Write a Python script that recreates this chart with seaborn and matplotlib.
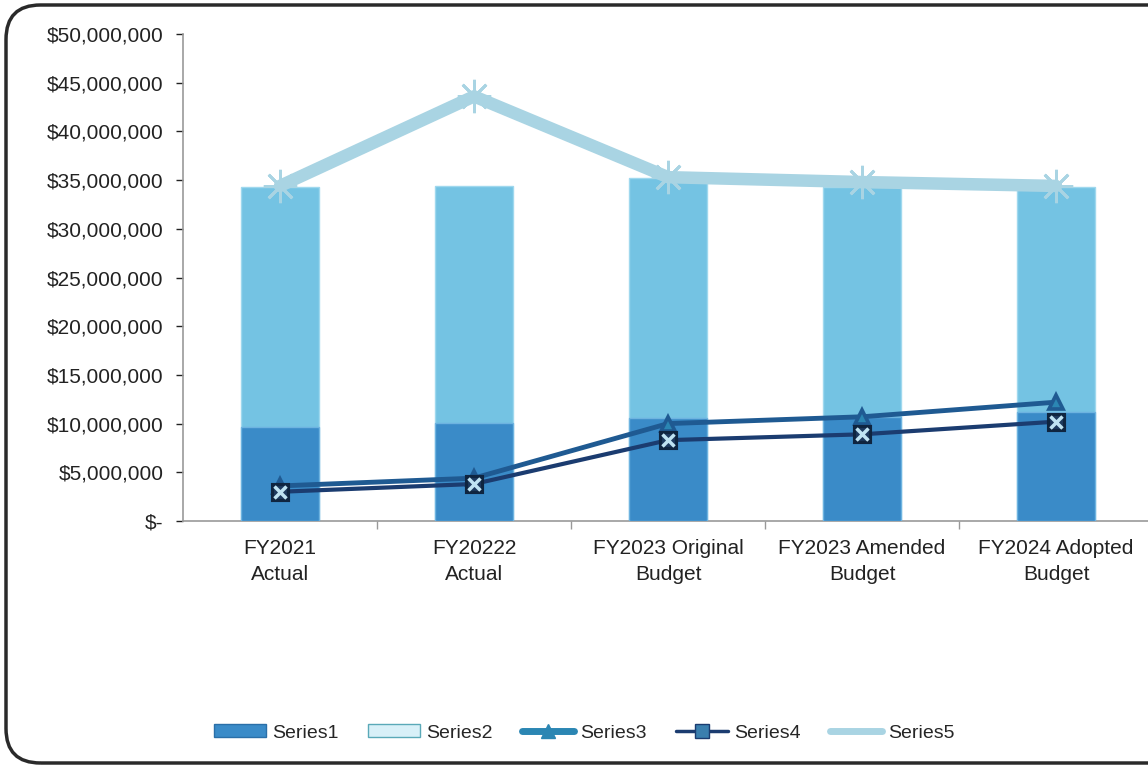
import numpy as np
import matplotlib
matplotlib.use("Agg")
import matplotlib.pyplot as plt
import seaborn as sns
from matplotlib.patches import FancyBboxPatch, Patch
from matplotlib.lines import Line2D
from matplotlib.ticker import FuncFormatter, FixedLocator

categories = ["FY2021\nActual", "FY20222\nActual", "FY2023 Original\nBudget",
              "FY2023 Amended\nBudget", "FY2024 Adopted\nBudget"]
series1 = [9.65e6, 10.05e6, 10.6e6, 10.7e6, 11.2e6]
series2 = [24.65e6, 24.35e6, 24.6e6, 23.6e6, 23.1e6]
series3 = [3.6e6, 4.4e6, 10.0e6, 10.7e6, 12.2e6]
series4 = [3.0e6, 3.8e6, 8.3e6, 8.9e6, 10.2e6]
series5 = [34.4e6, 43.6e6, 35.3e6, 34.8e6, 34.4e6]
yticks = [0, 5e6, 10e6, 15e6, 20e6, 25e6, 30e6, 35e6, 40e6, 45e6, 50e6]

c1 = "#3a8bc8"
c2 = "#74c3e3"
c3 = "#1f5a92"
c3m = "#2b86b3"
c4 = "#1b3c70"
c5 = "#a9d4e3"

sns.set_theme(style="white")
plt.rcParams["font.family"] = ["Liberation Sans", "DejaVu Sans"]

fig = plt.figure(figsize=(11.48, 7.68), dpi=100)
ax = fig.add_axes([183/1148, 1-521/768, 970/1148, 487/768])

totals = [a + b for a, b in zip(series1, series2)]
sns.barplot(x=categories, y=totals, color=c2, saturation=1, width=0.4,
            edgecolor="#9fd8ee", linewidth=1.0, ax=ax, zorder=2)
sns.barplot(x=categories, y=series1, color=c1, saturation=1, width=0.4,
            edgecolor="#6db3e0", linewidth=1.0, ax=ax, zorder=3)

sns.pointplot(x=categories, y=series5, color=c5, markers=(8, 2, 0),
              linestyles="-", errorbar=None, ax=ax, linewidth=9,
              markersize=24, markeredgewidth=2, zorder=4)
sns.pointplot(x=categories, y=series3, color=c3, markers="^",
              linestyles="-", errorbar=None, ax=ax, linewidth=3.5,
              markersize=10, markerfacecolor=c3m, markeredgecolor=c3, zorder=5)
sns.pointplot(x=categories, y=series4, color=c4, markers="s",
              linestyles="-", errorbar=None, ax=ax, linewidth=3,
              markersize=12, markerfacecolor="#1d3a5e", markeredgecolor="#0f2540", zorder=6)
sns.pointplot(x=categories, y=series4, color="#bfe3f2", markers="x",
              linestyles="none", errorbar=None, ax=ax,
              markersize=8, markeredgewidth=2.5, zorder=7)

ax.set_xlim(-0.5, 4.5)
ax.set_ylim(0, 50e6)
ax.set_yticks(yticks)
def fmt(v, pos):
    if v == 0:
        return "$-"
    return "${:,.0f}".format(v)
ax.yaxis.set_major_formatter(FuncFormatter(fmt))
ax.tick_params(axis="y", labelsize=15, colors="#222222", length=5, width=1,
               direction="out", left=True, pad=9)
ax.tick_params(axis="x", labelsize=15, colors="#222222", length=0, pad=13)
ax.xaxis.set_minor_locator(FixedLocator([0.5, 1.5, 2.5, 3.5]))
ax.tick_params(axis="x", which="minor", bottom=True, length=6, width=1, color="#999999")
for lbl in ax.get_yticklabels() + ax.get_xticklabels():
    lbl.set_color("#222222")
for lbl in ax.get_xticklabels():
    lbl.set_linespacing(1.45)
for s in ["top", "right"]:
    ax.spines[s].set_visible(False)
ax.spines["left"].set_color("#999999")
ax.spines["bottom"].set_color("#999999")
ax.spines["left"].set_linewidth(1.2)
ax.spines["bottom"].set_linewidth(1.2)
ax.set_xlabel("")
ax.set_ylabel("")
ax.grid(False)

handles = [
    Patch(facecolor=c1, edgecolor="#2a6fa8", label="Series1"),
    Patch(facecolor="#d8f0f8", edgecolor="#5aa9b8", label="Series2"),
    Line2D([], [], color=c3m, lw=5, marker="^", markersize=10, label="Series3"),
    Line2D([], [], color=c4, lw=2.5, marker="s", markersize=10,
           markerfacecolor="#3a7fae", markeredgecolor=c4, label="Series4"),
    Line2D([], [], color=c5, lw=5, label="Series5"),
]
fig.legend(handles=handles, loc="center", bbox_to_anchor=(584/1148, 1-733/768),
           ncol=5, frameon=False, fontsize=14, handlelength=2.7,
           handletextpad=0.3, columnspacing=1.5, handleheight=0.6)

border = FancyBboxPatch((6/1148, 5/768), 1250/1148, 758/768,
                        boxstyle="round,pad=0,rounding_size=0.03",
                        transform=fig.transFigure, fill=False, clip_on=False,
                        edgecolor="#2a2a2a", linewidth=2.5, mutation_aspect=1148/768)
fig.patches.append(border)

fig.savefig("out.png", dpi=100)
